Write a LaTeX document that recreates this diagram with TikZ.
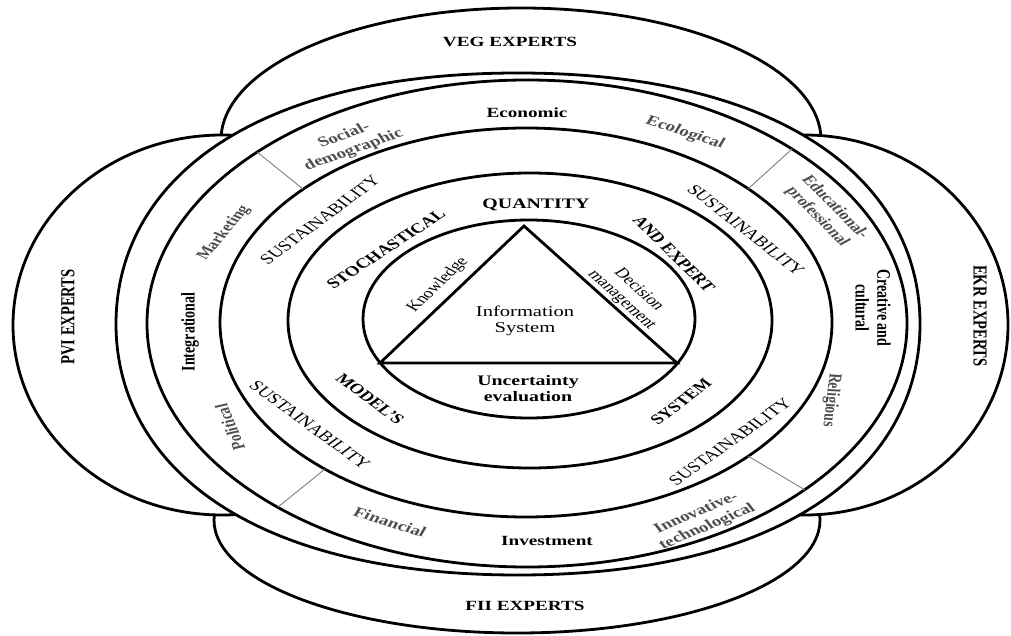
\documentclass[tikz,border=0pt]{standalone}
\usepackage{fontspec}
\setmainfont{Liberation Serif}
\definecolor{labgray}{RGB}{78,78,78}
\newcommand{\fsz}[1]{\fontsize{#1}{16}\selectfont}
\begin{document}
\begin{tikzpicture}[x=1pt,y=-1pt,
  ring/.style={line width=2.8pt, black},
  divider/.style={line width=0.9pt, gray},
  st/.style={xscale=1.37, inner sep=0pt, align=center},
  bk/.style={st, font=\fsz{#1}\bfseries},
  rg/.style={st, font=\fsz{#1}},
  gy/.style={st, font=\fsz{#1}\bfseries, text=labgray},
]
\useasboundingbox (0,0) rectangle (1011,636);

% expert lobes
\draw[ring, fill=white] (521,140) ellipse [x radius=300, y radius=132];
\draw[ring, fill=white] (517,520) ellipse [x radius=303, y radius=113];
\draw[ring, fill=white] (222,325) ellipse [x radius=209, y radius=190];
\draw[ring, fill=white] (805,325) ellipse [x radius=203, y radius=190];

% outer ring A (white, covers the lobes inside)
\draw[ring, fill=white] (116,324) .. controls (116,186) and (244.6,73) .. (518,73)
  .. controls (791.4,73) and (920,186) .. (920,324)
  .. controls (920,462) and (791.4,575) .. (518,575)
  .. controls (244.6,575) and (116,462) .. cycle;

% concentric rings
\draw[ring] (527,323.5) ellipse [x radius=380, y radius=243.5];
\draw[ring] (526,322.5) ellipse [x radius=306, y radius=194.5];
\draw[ring] (530,320.5) ellipse [x radius=242, y radius=147.5];
\draw[ring] (529,319) ellipse [x radius=166, y radius=99];

% triangle
\coordinate (tA) at (524,226);
\coordinate (tB) at (380,363);
\coordinate (tC) at (677,363);
\draw[ring, line join=miter] (tA) -- (tB) -- (tC) -- cycle;

% dividers
\coordinate (d1a) at (257,152); \coordinate (d1b) at (303,189);
\coordinate (d2a) at (792,149); \coordinate (d2b) at (748,189);
\coordinate (d3a) at (325,469); \coordinate (d3b) at (278,507);
\coordinate (d4a) at (748,456); \coordinate (d4b) at (805,490);
\draw[divider] (d1a) -- (d1b);
\draw[divider] (d2a) -- (d2b);
\draw[divider] (d3a) -- (d3b);
\draw[divider] (d4a) -- (d4b);

% expert labels
\node[bk=14] (veg) at (510,42) {VEG EXPERTS};
\node[bk=14] (fii) at (525,606) {FII EXPERTS};
\node[bk=14.5, rotate=90] (pvi) at (68,317) {PVI EXPERTS};
\node[bk=14.5, rotate=-90] (ekr) at (980,316) {EKR EXPERTS};

% outer ring labels
\node[bk=14] (eco) at (527,113) {Economic};
\node[bk=14] (inv) at (547,541) {Investment};
\node[gy=14, rotate=26] (soc) at (349,143) {Social-\\demographic};
\node[gy=14, rotate=-24] (ecol) at (685,133) {Ecological};
\node[gy=13.5, rotate=-54] (edu) at (826,212) {Educational-\\professional};
\node[bk=14, rotate=-90] (cre) at (873,308) {Creative and\\cultural};
\node[gy=13.5, rotate=-95] (rel) at (831,400) {Religious};
\node[gy=14, rotate=30] (innov) at (702,520) {Innovative-\\technological};
\node[gy=14, rotate=-23] (fin) at (390,522) {Financial};
\node[gy=13.5, rotate=107] (pol) at (230,427) {Political};
\node[bk=14, rotate=90] (integ) at (190,332) {Integrational};
\node[gy=13.5, rotate=58.5] (mkt) at (224,233) {Marketing};

% sustainability ring
\node[rg=14.5, rotate=45.5] (s1) at (320,220) {SUSTAINABILITY};
\node[rg=14.5, rotate=-47] (s2) at (746,230) {SUSTAINABILITY};
\node[rg=14.5, rotate=-45] (s3) at (310,425) {SUSTAINABILITY};
\node[rg=14.5, rotate=44] (s4) at (730,442) {SUSTAINABILITY};

% model ring
\node[bk=14.5] (qty) at (536,205) {QUANTITY};
\node[bk=14, rotate=42] (sto) at (386,249) {STOCHASTICAL};
\node[bk=14, rotate=-53] (aex) at (674,254) {AND EXPERT};
\node[bk=14, rotate=-45] (mod) at (370,399) {MODEL'S};
\node[bk=14, rotate=46] (sys) at (681,402) {SYSTEM};

% inner
\node[rg=14, rotate=52.7] (know) at (438,285) {Knowledge};
\node[rg=14, rotate=-51] (dec) at (630,295) {Decision\\management};
\node[rg=15] (info) at (525,321) {Information\\System};
\node[bk=14.5] (unc) at (528,389) {Uncertainty\\evaluation};
\end{tikzpicture}
\end{document}
